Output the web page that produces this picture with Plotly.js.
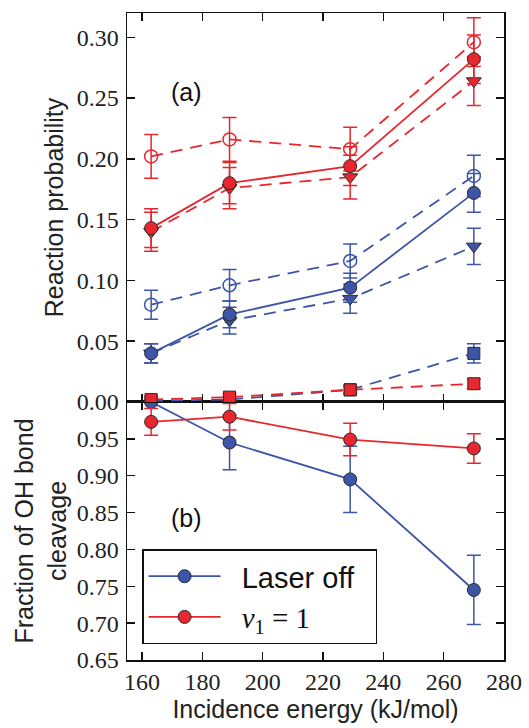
<!DOCTYPE html>
<html>
<head>
<meta charset="utf-8">
<script src="https://cdn.plot.ly/plotly-3.0.1.min.js"></script>
<style>html,body{margin:0;padding:0;background:#fff;}</style>
</head>
<body>
<div id="chart" style="width:529px;height:728px;"></div>
<script>
// Incidence energies (kJ/mol)
const energy = [163, 189, 229, 270];

// Panel (a): reaction probability
const offTotal      = [0.040, 0.072, 0.094, 0.172];
const offTotalErr   = [0.008, 0.011, 0.012, 0.016];
const offOpen       = [0.080, 0.096, 0.116, 0.186];
const offOpenErr    = [0.012, 0.013, 0.014, 0.017];
const offTri        = [0.040, 0.067, 0.085, 0.128];
const offTriErr     = [0.008, 0.011, 0.012, 0.015];
const offSq         = [0.001, 0.002, 0.010, 0.040];
const offSqErr      = [0.001, 0.002, 0.003, 0.008];

const onTotal       = [0.143, 0.180, 0.194, 0.282];
const onTotalErr    = [0.016, 0.017, 0.016, 0.020];
const onOpen        = [0.202, 0.216, 0.208, 0.296];
const onOpenErr     = [0.018, 0.018, 0.018, 0.020];
const onTri         = [0.140, 0.176, 0.185, 0.264];
const onTriErr      = [0.016, 0.017, 0.018, 0.020];
const onSq          = [0.002, 0.004, 0.010, 0.015];
const onSqErr       = [0.002, 0.003, 0.003, 0.004];

// Panel (b): fraction of OH bond cleavage
const offFrac       = [1.000, 0.945, 0.895, 0.745];
const offFracErr    = [0.000, 0.037, 0.045, 0.047];
const onFrac        = [0.973, 0.980, 0.949, 0.937];
const onFracErr     = [0.018, 0.018, 0.022, 0.020];

const legendNames = ['\u00a0\u00a0Laser off\u00a0\u00a0', '\u00a0\u00a0<span style="font-family:Liberation Serif"><i>ν</i><sub>1</sub> = 1</span>'];

const xTicks = [160, 180, 200, 220, 240, 260, 280];
const yTicksA = [0.00, 0.05, 0.10, 0.15, 0.20, 0.25, 0.30];
const yTicksB = [0.65, 0.70, 0.75, 0.80, 0.85, 0.90, 0.95];

const BLUE = '#3c55a6';
const RED = '#e8262d';
const EDGE = '#2a2a2a';

function tr(y, err, color, opts) {
  const o = Object.assign({symbol: 'circle', dash: 'solid', open: false, xa: 'x2', ya: 'y2', size: 13, name: '', legend: false}, opts || {});
  return {
    x: energy, y: y, type: 'scatter', mode: 'lines+markers',
    xaxis: o.xa, yaxis: o.ya, name: o.name, showlegend: o.legend,
    line: {color: color, width: 1.8, dash: o.dash},
    marker: o.open
      ? {symbol: 'circle-open', size: o.size, color: color, line: {color: color, width: 1.5}}
      : {symbol: o.symbol, size: o.size, color: color, line: {color: EDGE, width: 1}},
    error_y: {type: 'data', array: err, visible: true, color: color, thickness: 1.5, width: 7},
    cliponaxis: true
  };
}

const dashed = '12px,8px';
const data = [
  tr(offSq, offSqErr, BLUE, {symbol: 'square', dash: dashed, size: 12}),
  tr(offTri, offTriErr, BLUE, {symbol: 'triangle-down', dash: dashed}),
  tr(offOpen, offOpenErr, BLUE, {open: true, dash: dashed}),
  tr(offTotal, offTotalErr, BLUE, {}),
  tr(onSq, onSqErr, RED, {symbol: 'square', dash: dashed, size: 12}),
  tr(onTri, onTriErr, RED, {symbol: 'triangle-down', dash: dashed}),
  tr(onOpen, onOpenErr, RED, {open: true, dash: dashed}),
  tr(onTotal, onTotalErr, RED, {}),
  tr(offFrac, offFracErr, BLUE, {xa: 'x', ya: 'y', name: legendNames[0], legend: true}),
  tr(onFrac, onFracErr, RED, {xa: 'x', ya: 'y', name: legendNames[1], legend: true})
];

const titleFont = {family: 'Liberation Sans', size: 25, color: '#222'};
const tickFont = {family: 'Liberation Serif', size: 24, color: '#222'};
const split = 0.3988;

function ax(extra) {
  return Object.assign({
    showline: true, linecolor: '#111', linewidth: 1.5, mirror: 'allticks',
    ticks: 'inside', ticklen: 8, tickwidth: 1.5, tickcolor: '#111',
    showgrid: false, zeroline: false, tickfont: Object.assign({}, tickFont)
  }, extra);
}

const layout = {
  width: 529, height: 728,
  margin: {l: 127, r: 25, t: 13, b: 68},
  paper_bgcolor: '#fff', plot_bgcolor: '#fff',
  font: {family: 'Liberation Serif', size: 24, color: '#222'},
  xaxis: ax({
    domain: [0, 1], anchor: 'y', range: [155, 280], tickvals: xTicks,
    title: {text: 'Incidence energy (kJ/mol)', font: titleFont, standoff: 6}
  }),
  xaxis2: ax({
    domain: [0, 1], anchor: 'y2', matches: 'x', range: [155, 280], tickvals: xTicks,
    showticklabels: false
  }),
  yaxis: ax({
    domain: [0, split], anchor: 'x', range: [0.65, 1.0], tickvals: yTicksB,
    tickformat: '.2f', ticklabelstandoff: 2,
    title: {text: 'Fraction of OH bond<br>cleavage', font: titleFont, standoff: 3}
  }),
  yaxis2: ax({
    domain: [split, 1], anchor: 'x2', range: [0, 0.32], tickvals: yTicksA,
    tickformat: '.2f', ticklabelstandoff: 2,
    title: {text: 'Reaction probability', font: titleFont, standoff: 6}
  }),
  legend: {
    x: 0.04, y: 0.171, xanchor: 'left', yanchor: 'top',
    bgcolor: '#fff', bordercolor: '#111', borderwidth: 1.5,
    font: {family: 'Liberation Sans', size: 29, color: '#111'},
    itemwidth: 72, tracegroupgap: 0
  },
  annotations: [
    {text: '(a)', xref: 'paper', yref: 'paper', x: 0.159, y: 0.878, xanchor: 'center', yanchor: 'middle', showarrow: false, font: {family: 'Liberation Sans', size: 25, color: '#111'}},
    {text: '(b)', xref: 'paper', yref: 'paper', x: 0.159, y: 0.2195, xanchor: 'center', yanchor: 'middle', showarrow: false, font: {family: 'Liberation Sans', size: 25, color: '#111'}}
  ]
};

Plotly.newPlot('chart', data, layout, {staticPlot: true, displayModeBar: false});
</script>
</body>
</html>
